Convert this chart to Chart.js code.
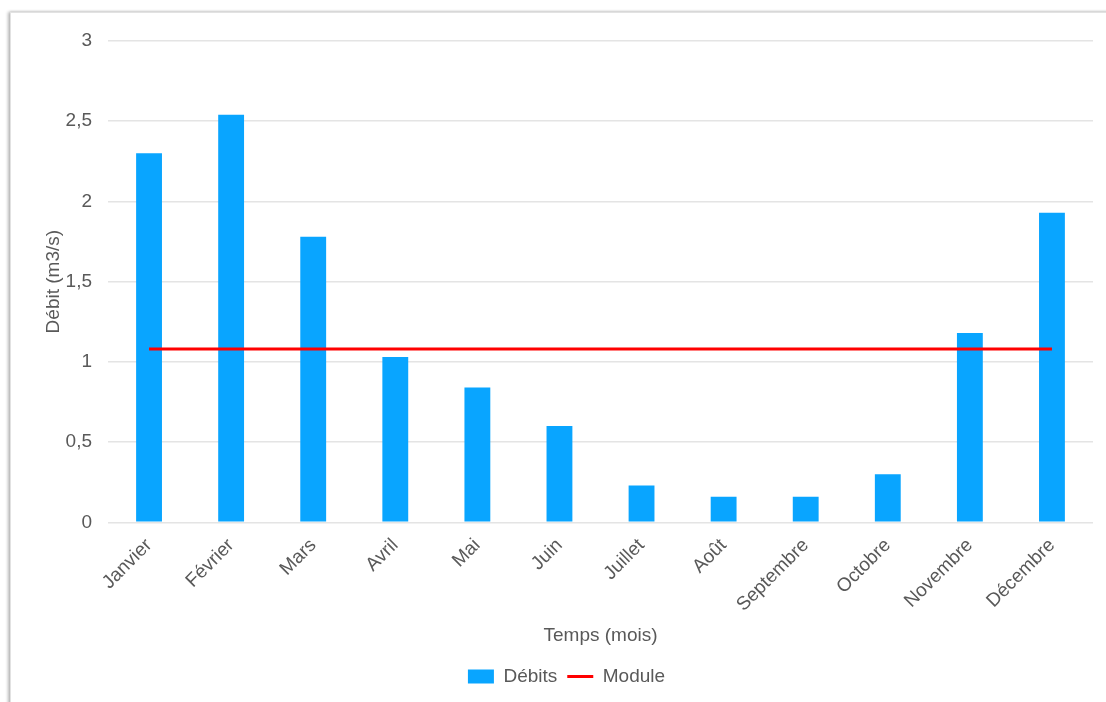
<!DOCTYPE html>
<html lang="fr">
<head>
<meta charset="utf-8">
<title>Débits mensuels</title>
<script src="https://cdn.jsdelivr.net/npm/chart.js@4.4.1/dist/chart.umd.min.js"></script>
<style>
  html, body { margin: 0; padding: 0; background: #fff; }
  body { width: 1106px; height: 702px; position: relative; overflow: hidden; }
  .frame {
    position: absolute; left: 10px; top: 12px; width: 1120px; height: 720px;
    background: #fff; border: 1px solid #e2e2e2;
    box-shadow: -2px 0 3px rgba(0,0,0,0.28), 0 -1px 2px rgba(0,0,0,0.08);
  }
  .wrap { position: absolute; left: 0; top: 0; width: 1106px; height: 702px; }
</style>
</head>
<body>
<div class="frame"></div>
<div class="wrap"><canvas id="debitChart"></canvas></div>
<script>
// Données
const months = ['Janvier', 'Février', 'Mars', 'Avril', 'Mai', 'Juin', 'Juillet', 'Août', 'Septembre', 'Octobre', 'Novembre', 'Décembre'];
const debits = [2.30, 2.54, 1.78, 1.03, 0.84, 0.60, 0.23, 0.16, 0.16, 0.30, 1.18, 1.93];
const moduleValues = [1.08, 1.08, 1.08, 1.08, 1.08, 1.08, 1.08, 1.08, 1.08, 1.08, 1.08, 1.08];
const yTicks = [0, 0.5, 1, 1.5, 2, 2.5, 3];
const yTickLabels = ['0', '0,5', '1', '1,5', '2', '2,5', '3'];

const textColor = '#595959';
const font = { family: "'Liberation Sans', Arial, Helvetica, sans-serif", size: 19 };

document.addEventListener('DOMContentLoaded', function () {
  const ctx = document.getElementById('debitChart');
  new Chart(ctx, {
    data: {
      labels: months,
      datasets: [
        { type: 'bar', label: 'Débits', data: debits, backgroundColor: '#09a5ff', borderWidth: 0, barPercentage: 0.9, categoryPercentage: 0.35, order: 1, pointStyle: 'rect' },
        { type: 'line', label: 'Module', data: moduleValues, borderColor: '#ff0000', backgroundColor: '#ff0000', borderWidth: 3, pointRadius: 0, tension: 0, order: 0, pointStyle: 'line' },
      ],
    },
    options: {
      responsive: true,
      maintainAspectRatio: false,
      animation: false,
      layout: { padding: { left: 40, top: 41, right: 13, bottom: 6 } },
      plugins: {
        legend: {
          position: 'bottom',
          labels: { color: textColor, font: font, usePointStyle: true, pointStyleWidth: 26, boxHeight: 14, padding: 10, sort: (a, b) => a.datasetIndex - b.datasetIndex },
        },
        tooltip: { enabled: false },
      },
      scales: {
        x: {
          grid: { display: false },
          border: { display: false },
          ticks: { color: textColor, font: font, maxRotation: 45, minRotation: 45, padding: 4 },
          title: { display: true, text: 'Temps (mois)', color: textColor, font: font, padding: { top: 4, bottom: 10 } },
        },
        y: {
          min: 0,
          max: 3,
          afterBuildTicks: (axis) => { axis.ticks = yTicks.map(v => ({ value: v })); },
          afterFit: (axis) => { axis.width = 68; },
          grid: { color: '#e4e4e4', lineWidth: 1.5, drawTicks: false },
          border: { display: false },
          ticks: { color: textColor, font: font, padding: 16, callback: (v, i) => yTickLabels[i] },
          title: { display: true, text: 'Débit (m3/s)', color: textColor, font: font, padding: { top: 2, bottom: 4 } },
        },
      },
    },
  });
});
</script>
</body>
</html>
